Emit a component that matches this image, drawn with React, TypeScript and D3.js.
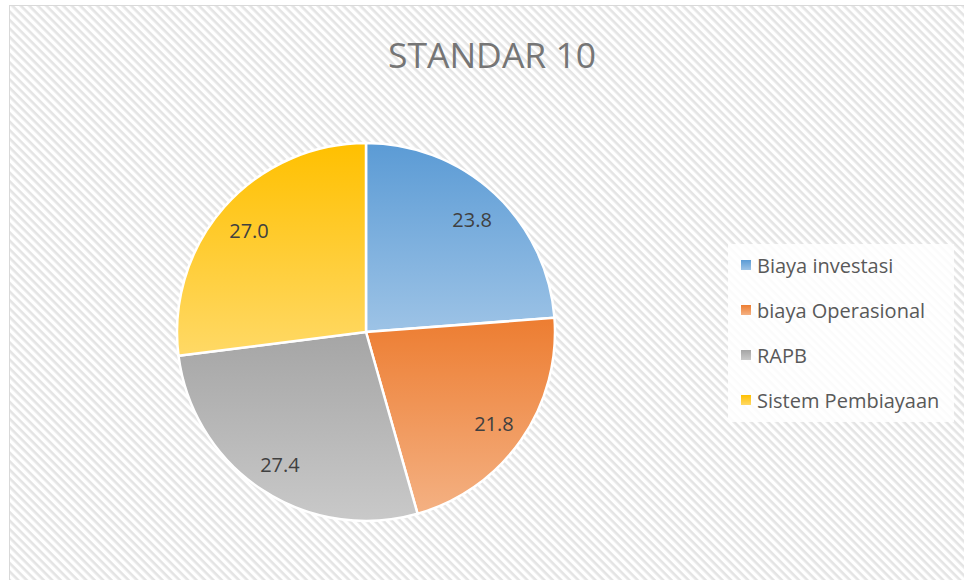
import React from "react";
import * as d3 from "d3";

const categories = ["Biaya investasi", "biaya Operasional", "RAPB", "Sistem Pembiayaan"];
const values = [23.8, 21.8, 27.4, 27.0];
const colorsTop = ["#5B9BD5", "#ED7D31", "#A5A5A5", "#FFC000"];
const colorsBottom = ["#9DC3E6", "#F4B183", "#C9C9C9", "#FFD966"];
const title = "STANDAR 10";

export default function App() {
  const W = 964, H = 580;
  const cx = 366, cy = 332, r = 189;
  const pie = d3.pie<number>().sort(null).value((d) => d)(values);
  const arc = d3.arc<d3.PieArcDatum<number>>().innerRadius(0).outerRadius(r);
  const labelArc = d3.arc<d3.PieArcDatum<number>>().innerRadius(156).outerRadius(156);
  const font = "'Open Sans', 'DejaVu Sans', sans-serif";
  const legendY = d3.scalePoint<string>().domain(categories).range([265, 400]);

  return (
    <svg width={W} height={H} style={{ position: "absolute", left: 0, top: 0 }}>
      <defs>
        <pattern id="hatch" width="6" height="6" patternUnits="userSpaceOnUse" patternTransform="rotate(45)">
          <rect width="6" height="6" fill="#ffffff" />
          <rect width="6" height="2.6" fill="#e4e4e4" />
        </pattern>
        {categories.map((c, i) => (
          <linearGradient key={c} id={`g${i}`} x1="0" y1="0" x2="0" y2="1">
            <stop offset="0" stopColor={colorsTop[i]} />
            <stop offset="1" stopColor={colorsBottom[i]} />
          </linearGradient>
        ))}
      </defs>
      <rect x={0} y={0} width={W} height={H} fill="#ffffff" />
      <rect x={9.5} y={5.5} width={W + 10} height={H + 10} fill="url(#hatch)" stroke="#d9d9d9" strokeWidth={1} />
      <text x={492} y={68} textAnchor="middle" fontFamily={font} fontSize={35.5} fill="#757575">
        {title}
      </text>
      <g transform={`translate(${cx},${cy})`}>
        {pie.map((p, i) => (
          <path key={i} d={arc(p) || ""} fill={`url(#g${i})`} stroke="#ffffff" strokeWidth={2.5} strokeLinejoin="round" />
        ))}
        {pie.map((p, i) => {
          const [x, y] = labelArc.centroid(p);
          return (
            <text key={i} x={x} y={y + 2} textAnchor="middle" dominantBaseline="central" fontFamily={font} fontSize={20} fill="#404040">
              {values[i].toFixed(1)}
            </text>
          );
        })}
      </g>
      <rect x={728} y={244} width={226} height={178} fill="#ffffff" opacity={0.85} />
      {categories.map((c, i) => (
        <g key={c} transform={`translate(741,${legendY(c)})`}>
          <rect x={0} y={-5} width={10} height={10} fill={`url(#g${i})`} />
          <text x={16} y={0} dominantBaseline="central" fontFamily={font} fontSize={20} fill="#595959">
            {c}
          </text>
        </g>
      ))}
    </svg>
  );
}
